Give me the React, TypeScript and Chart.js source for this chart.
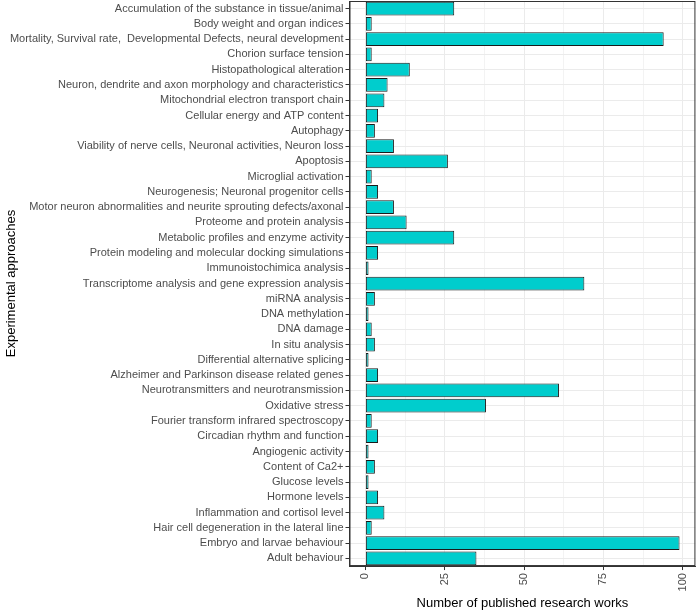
import React, { useEffect, useRef } from "react";
import { Chart, registerables } from "chart.js";

Chart.register(...registerables);

const categories: string[] = [
  "Accumulation of the substance in tissue/animal",
  "Body weight and organ indices",
  "Mortality, Survival rate,  Developmental Defects, neural development",
  "Chorion surface tension",
  "Histopathological alteration",
  "Neuron, dendrite and axon morphology and characteristics",
  "Mitochondrial electron transport chain",
  "Cellular energy and ATP content",
  "Autophagy",
  "Viability of nerve cells, Neuronal activities, Neuron loss",
  "Apoptosis",
  "Microglial activation",
  "Neurogenesis; Neuronal progenitor cells",
  "Motor neuron abnormalities and neurite sprouting defects/axonal",
  "Proteome and protein analysis",
  "Metabolic profiles and enzyme activity",
  "Protein modeling and molecular docking simulations",
  "Immunoistochimica analysis",
  "Transcriptome analysis and gene expression analysis",
  "miRNA analysis",
  "DNA methylation",
  "DNA damage",
  "In situ analysis",
  "Differential alternative splicing",
  "Alzheimer and Parkinson disease related genes",
  "Neurotransmitters and neurotransmission",
  "Oxidative stress",
  "Fourier transform infrared spectroscopy",
  "Circadian rhythm and function",
  "Angiogenic activity",
  "Content of Ca2+",
  "Glucose levels",
  "Hormone levels",
  "Inflammation and cortisol level",
  "Hair cell degeneration in the lateral line",
  "Embryo and larvae behaviour",
  "Adult behaviour",
];

const publishedWorks: number[] = [
  28, 2, 94, 2, 14, 7, 6, 4, 3, 9, 26, 2, 4, 9, 13, 28, 4, 1, 69, 3, 1, 2, 3, 1,
  4, 61, 38, 2, 4, 1, 3, 1, 4, 6, 2, 99, 35,
];

const xTickValues: number[] = [0, 12.5, 25, 37.5, 50, 62.5, 75, 87.5, 100];
const xMajorTicks: number[] = [0, 25, 50, 75, 100];
const xMin = -5;
const xMax = 104;

const panelBorder = {
  id: "panelBorder",
  afterDatasetsDraw(chart: any) {
    const { ctx, chartArea } = chart;
    const { left, top, right, bottom } = chartArea;
    ctx.save();
    ctx.strokeStyle = "#333333";
    ctx.lineWidth = 1;
    ctx.strokeRect(left + 0.5, top + 0.5, right - left - 1, bottom - top - 1);
    ctx.restore();
  },
};

export default function App() {
  const canvasRef = useRef<HTMLCanvasElement | null>(null);

  useEffect(() => {
    if (!canvasRef.current) return;
    const isMajor = (v: number) => xMajorTicks.includes(v);
    const chart = new Chart(canvasRef.current, {
      type: "bar",
      data: {
        labels: categories,
        datasets: [
          {
            data: publishedWorks,
            backgroundColor: "#00CDCD",
            borderColor: "#1a1a1a",
            borderWidth: 1,
            borderSkipped: false,
            categoryPercentage: 0.9,
            barPercentage: 1,
          },
        ],
      },
      options: {
        indexAxis: "y",
        responsive: false,
        animation: false,
        devicePixelRatio: 1,
        layout: { padding: { top: 1, right: 2, left: 2, bottom: 0 } },
        plugins: {
          legend: { display: false },
          tooltip: { enabled: false },
        },
        scales: {
          x: {
            type: "linear",
            min: xMin,
            max: xMax,
            afterBuildTicks: (scale: any) => {
              scale.ticks = xTickValues.map((v) => ({ value: v }));
            },
            ticks: {
              autoSkip: false,
              minRotation: 90,
              maxRotation: 90,
              padding: 3,
              color: "#4d4d4d",
              font: { family: "Liberation Sans, Arial, sans-serif", size: 11 },
              callback: (v: any) => (isMajor(Number(v)) ? String(v) : ""),
            },
            grid: {
              color: "#ebebeb",
              lineWidth: (ctx: any) => (isMajor(ctx.tick?.value) ? 1 : 0.6),
              tickColor: (ctx: any) =>
                isMajor(ctx.tick?.value) ? "#333333" : "rgba(0,0,0,0)",
              tickLength: 4,
            },
            border: { display: true, color: "#333333" },
            title: {
              display: true,
              text: "Number of published research works",
              color: "#000000",
              font: { family: "Liberation Sans, Arial, sans-serif", size: 13 },
              padding: { top: 1, bottom: 0 },
            },
          },
          y: {
            type: "category",
            offset: true,
            afterFit: (scale: any) => {
              scale.paddingTop = 0;
              scale.paddingBottom = 0;
            },
            ticks: {
              autoSkip: false,
              padding: 2,
              color: "#4d4d4d",
              font: { family: "Liberation Sans, Arial, sans-serif", size: 11 },
            },
            grid: {
              offset: false,
              color: "#ebebeb",
              tickColor: "#333333",
              tickLength: 4,
            },
            border: { display: true, color: "#333333" },
            title: {
              display: true,
              text: "Experimental approaches",
              color: "#000000",
              font: { family: "Liberation Sans, Arial, sans-serif", size: 13 },
              padding: { top: 2, bottom: 4 },
            },
          },
        },
      },
      plugins: [panelBorder],
    } as any);
    return () => chart.destroy();
  }, []);

  return (
    <div style={{ position: "fixed", left: 0, top: 0, width: 699, height: 611, background: "#ffffff" }}>
      <canvas ref={canvasRef} width={699} height={611} />
    </div>
  );
}
